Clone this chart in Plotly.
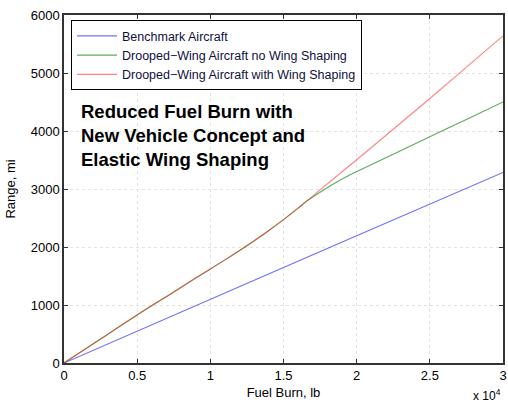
import plotly.graph_objects as go

# Fuel burn in lb
fuel_blue = [0, 5000, 10000, 15000, 20000, 25000, 30000]
range_blue = [0, 545, 1095, 1645, 2195, 2740, 3285]

fuel_shared = [0, 2500, 5000, 7500, 9000, 10000, 11000, 12000, 13000, 14000, 15000, 16000, 16500]
range_shared = [0, 415, 828, 1225, 1465, 1620, 1778, 1940, 2108, 2285, 2472, 2670, 2775]

fuel_green_tail = [17500, 18500, 20000, 22500, 25000, 27500, 30000]
range_green_tail = [2945, 3100, 3300, 3600, 3900, 4200, 4500]

fuel_red_tail = [17500, 20000, 22500, 25000, 27500, 30000]
range_red_tail = [2985, 3505, 4030, 4560, 5100, 5640]

x_ticks = [0, 5000, 10000, 15000, 20000, 25000, 30000]
x_tick_text = ["0", "0.5", "1", "1.5", "2", "2.5", "3"]
y_ticks = [0, 1000, 2000, 3000, 4000, 5000, 6000]

series_names = ["Benchmark Aircraft",
                "Drooped\u2212Wing Aircraft no Wing Shaping",
                "Drooped\u2212Wing Aircraft with Wing Shaping"]

font_family = "Liberation Sans, Arial, sans-serif"

fig = go.Figure()
fig.add_trace(go.Scatter(x=fuel_blue, y=range_blue, mode="lines", name=series_names[0],
                         line=dict(color="#3f3fff", width=1.1), opacity=0.75))
fig.add_trace(go.Scatter(x=fuel_shared + fuel_green_tail, y=range_shared + range_green_tail,
                         mode="lines", name=series_names[1], line_shape="spline",
                         line=dict(color="#1a8a1a", width=1.1), opacity=0.7))
fig.add_trace(go.Scatter(x=fuel_shared + fuel_red_tail, y=range_shared + range_red_tail,
                         mode="lines", name=series_names[2], line_shape="spline",
                         line=dict(color="#ff3030", width=1.1), opacity=0.6))

axis_common = dict(showline=True, linecolor="#333333", linewidth=1.5, mirror="ticks",
                   ticks="inside", ticklen=4, tickcolor="#333333", tickwidth=1,
                   showgrid=True, gridcolor="#e2e2e2", griddash="dot", gridwidth=1,
                   zeroline=False, ticklabeloverflow="allow",
                   tickfont=dict(family=font_family, size=13, color="black"))

fig.update_xaxes(range=[0, 30000], tickvals=x_ticks, ticktext=x_tick_text,
                 title=dict(text="Fuel Burn, lb", font=dict(family=font_family, size=13, color="black"),
                            standoff=6),
                 **axis_common)
fig.update_yaxes(range=[0, 6000], tickvals=y_ticks,
                 title=dict(text="Range, mi", font=dict(family=font_family, size=13, color="black"),
                            standoff=12),
                 **axis_common)

fig.add_annotation(xref="paper", yref="paper", x=1.0, y=0, yshift=-22, xanchor="right", yanchor="top",
                   text="x 10<sup>4</sup>", showarrow=False,
                   font=dict(family=font_family, size=12, color="black"))

fig.add_annotation(xref="paper", yref="paper", x=0.035, y=0.76, xanchor="left", yanchor="top",
                   align="left", showarrow=False,
                   text="<b>Reduced Fuel Burn with<br>New Vehicle Concept and<br>Elastic Wing Shaping</b>",
                   font=dict(family=font_family, size=18.5, color="black"))

fig.update_layout(
    width=508, height=403,
    margin=dict(l=64, r=1, t=15, b=40),
    plot_bgcolor="white", paper_bgcolor="white",
    showlegend=True,
    legend=dict(x=0.016, y=0.985, xanchor="left", yanchor="top",
                bgcolor="white", bordercolor="black", borderwidth=1,
                font=dict(family=font_family, size=12.5, color="#101040"),
                tracegroupgap=0, itemwidth=40),
)

fig.write_html("out.html")
